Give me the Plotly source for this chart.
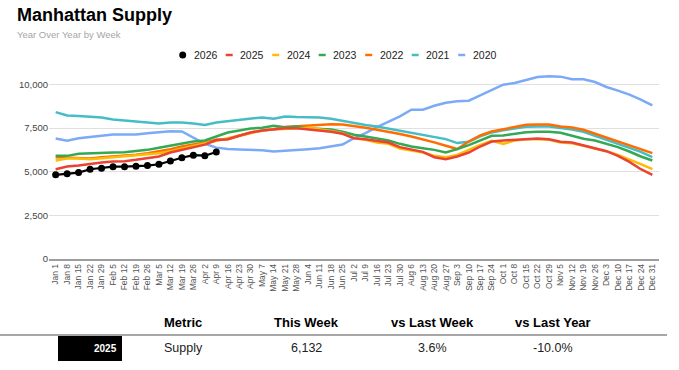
import plotly.graph_objects as go

weeks = ["Jan 1","Jan 8","Jan 15","Jan 22","Jan 29","Feb 5","Feb 12","Feb 19","Feb 26",
         "Mar 5","Mar 12","Mar 19","Mar 26","Apr 2","Apr 9","Apr 16","Apr 23","Apr 30",
         "May 7","May 14","May 21","May 28","Jun 4","Jun 11","Jun 18","Jun 25",
         "Jul 2","Jul 9","Jul 16","Jul 23","Jul 30","Aug 6","Aug 13","Aug 20","Aug 27",
         "Sep 3","Sep 10","Sep 17","Sep 24","Oct 1","Oct 8","Oct 15","Oct 22","Oct 29",
         "Nov 5","Nov 12","Nov 19","Nov 26","Dec 3","Dec 10","Dec 17","Dec 24","Dec 31"]

v2026 = [4820, 4890, 4950, 5140, 5200, 5290, 5290, 5320, 5350, 5430, 5620, 5800, 5950, 5919, 6132]

v2025 = [5146, 5296, 5354, 5450, 5525, 5580, 5600, 5680, 5775, 5870, 6100, 6250, 6400,
         6550, 6813, 6866, 7057, 7248, 7363, 7440, 7497, 7497, 7440, 7382, 7290, 7172,
         6923, 6866, 6751, 6675, 6407, 6292, 6139, 5833, 5718, 5871, 6100, 6445, 6732,
         6789, 6827, 6904, 6904, 6866, 6713, 6675, 6521, 6368, 6177, 5909, 5565, 5144, 4819]

v2024 = [5641, 5756, 5756, 5718, 5775, 5833, 5871, 5909, 5967, 6062, 6177, 6330, 6445,
         6598, 6789, 6904, 7095, 7248, 7363, 7440, 7440, 7478, 7516, 7440, 7330, 7210,
         6923, 6827, 6675, 6598, 6330, 6215, 6100, 5909, 5833, 5967, 6253, 6541, 6770,
         6598, 6789, 6866, 6866, 6827, 6675, 6636, 6483, 6330, 6177, 5967, 5718, 5431, 5144]

v2023 = [5909, 5909, 6024, 6062, 6081, 6100, 6120, 6177, 6253, 6368, 6502, 6636, 6732,
         6789, 7019, 7248, 7363, 7478, 7516, 7631, 7554, 7593, 7497, 7478, 7420, 7286,
         7114, 7019, 6885, 6789, 6598, 6445, 6349, 6253, 6110, 6292, 6521, 6789, 7057,
         7076, 7172, 7267, 7286, 7286, 7229, 7076, 6885, 6789, 6598, 6407, 6158, 5871, 5641]

v2022 = [5833, 5795, 5795, 5756, 5833, 5871, 5909, 5967, 6062, 6158, 6292, 6445, 6541,
         6675, 6827, 6866, 7057, 7248, 7363, 7440, 7560, 7600, 7630, 7680, 7720, 7707,
         7620, 7520, 7400, 7290, 7160, 7020, 6860, 6680, 6490, 6300, 6732, 7076, 7305,
         7440, 7554, 7688, 7707, 7707, 7593, 7535, 7401, 7172, 6980, 6751, 6521, 6253, 6062]

v2021 = [8416, 8224, 8186, 8130, 8110, 7995, 7940, 7900, 7845, 7768, 7825, 7825, 7768,
         7672, 7825, 7900, 7978, 8072, 8110, 8034, 8168, 8130, 8110, 8110, 8034, 7920,
         7770, 7672, 7596, 7480, 7366, 7213, 7099, 6984, 6869, 6640, 6716, 7022, 7252,
         7380, 7480, 7577, 7596, 7596, 7500, 7420, 7290, 7060, 6870, 6640, 6400, 6140, 5834]

v2020 = [6903, 6770, 6923, 7000, 7056, 7133, 7133, 7133, 7210, 7286, 7325, 7305, 6950,
         6600, 6380, 6300, 6272, 6253, 6234, 6157, 6196, 6215, 6291, 6348, 6444, 6559,
         6922, 7213, 7558, 7883, 8170, 8553, 8553, 8783, 8955, 9031, 9070, 9376, 9663,
         9988, 10084, 10237, 10428, 10467, 10448, 10295, 10295, 10142, 9855, 9644, 9415, 9128, 8800]

series_names = ["2026", "2025", "2024", "2023", "2022", "2021", "2020"]
series_vals = [v2026, v2025, v2024, v2023, v2022, v2021, v2020]
series_colors = ["#000000", "#EA4335", "#FBBC04", "#34A853", "#FF6D01", "#46BDC6", "#7BAAF7"]

y_ticks = [0, 2500, 5000, 7500, 10000]

table_header = ["Metric", "This Week", "vs Last Week", "vs Last Year"]
table_row = ["Supply", "6,132", "3.6%", "-10.0%"]
row_label = "2025"

title_text = "Manhattan Supply"
subtitle_text = "Year Over Year by Week"

# ---- geometry (pixels) ----
W, H = 679, 370
L, R, T, B = 49, 659, 67, 259
FONT = "Arial, Liberation Sans, sans-serif"

def px(x):
    return (x - L) / (R - L)

def py(y):
    return (B - y) / (B - T)

fig = go.Figure()

# draw older years first so recent ones sit on top
for name, vals, col in reversed(list(zip(series_names, series_vals, series_colors))):
    if name == "2026":
        fig.add_trace(go.Scatter(x=weeks[:len(vals)], y=vals, name=name, mode="lines+markers",
                                 line=dict(color=col, width=2.2),
                                 marker=dict(color=col, size=7), showlegend=False))
    else:
        fig.add_trace(go.Scatter(x=weeks[:len(vals)], y=vals, name=name, mode="lines",
                                 line=dict(color=col, width=2.5), showlegend=False))

annotations = []
shapes = []

# title / subtitle
annotations.append(dict(text="<b>" + title_text + "</b>", x=px(15), y=py(15), xref="paper", yref="paper",
                        xanchor="left", yanchor="middle", showarrow=False,
                        font=dict(family=FONT, size=18, color="#000000")))
annotations.append(dict(text=subtitle_text, x=px(15), y=py(34), xref="paper", yref="paper",
                        xanchor="left", yanchor="middle", showarrow=False,
                        font=dict(family=FONT, size=9.5, color="#a6a6a6")))

# custom legend
leg_x0, leg_step, leg_y = 182.7, 46.5, 55
for k, (name, col) in enumerate(zip(series_names, series_colors)):
    cx = leg_x0 + leg_step * k
    if k == 0:
        shapes.append(dict(type="circle", xref="paper", yref="paper",
                           x0=px(cx - 3.5), x1=px(cx + 3.5), y0=py(leg_y + 3.5), y1=py(leg_y - 3.5),
                           fillcolor=col, line=dict(color=col, width=0)))
    else:
        shapes.append(dict(type="line", xref="paper", yref="paper",
                           x0=px(cx - 3.5), x1=px(cx + 3.5), y0=py(leg_y), y1=py(leg_y),
                           line=dict(color=col, width=2.5)))
    annotations.append(dict(text=name, x=px(cx + 9), y=py(leg_y), xref="paper", yref="paper",
                            xanchor="left", yanchor="middle", showarrow=False,
                            font=dict(family=FONT, size=10.5, color="#222222")))

# table
col_centers = [183, 306, 432, 553]
for cx, t in zip(col_centers, table_header):
    annotations.append(dict(text="<b>" + t + "</b>", x=px(cx), y=py(322), xref="paper", yref="paper",
                            xanchor="center", yanchor="middle", showarrow=False,
                            font=dict(family=FONT, size=13, color="#000000")))
for cx, t in zip(col_centers, table_row):
    annotations.append(dict(text=t, x=px(cx), y=py(348), xref="paper", yref="paper",
                            xanchor="center", yanchor="middle", showarrow=False,
                            font=dict(family=FONT, size=12.5, color="#222222")))
shapes.append(dict(type="line", xref="paper", yref="paper", x0=px(0), x1=px(667),
                   y0=py(335), y1=py(335), line=dict(color="#8a8a8a", width=1.5)))
shapes.append(dict(type="rect", xref="paper", yref="paper", x0=px(58), x1=px(122),
                   y0=py(361), y1=py(336), fillcolor="#000000", line=dict(width=0)))
annotations.append(dict(text="<b>" + row_label + "</b>", x=px(119), y=py(348.5), xref="paper", yref="paper",
                        xanchor="right", yanchor="middle", showarrow=False,
                        font=dict(family=FONT, size=10, color="#ffffff")))

fig.update_layout(
    width=W, height=H,
    margin=dict(l=L, r=W - R, t=T, b=H - B),
    paper_bgcolor="#ffffff", plot_bgcolor="#ffffff",
    showlegend=False,
    font=dict(family=FONT, size=10, color="#444444"),
    xaxis=dict(type="category", categoryorder="array", categoryarray=weeks,
               range=[-0.58, 52.58], tickangle=-90, tickmode="array", tickvals=weeks,
               tickfont=dict(family=FONT, size=8.5, color="#555555"),
               showgrid=False, showline=True, linecolor="#9e9e9e", linewidth=1.5,
               ticks="", zeroline=False, fixedrange=True),
    yaxis=dict(range=[0, 11000], tickvals=y_ticks, tickformat=",",
               tickfont=dict(family=FONT, size=9.5, color="#444444"),
               showgrid=True, gridcolor="#e0e0e0", gridwidth=1, zeroline=False,
               ticks="", showline=False, fixedrange=True),
    annotations=annotations,
    shapes=shapes,
)

fig.write_html("out.html", config={"displayModeBar": False, "staticPlot": True},
               post_script="document.body.style.margin='0';document.body.style.padding='0';")
